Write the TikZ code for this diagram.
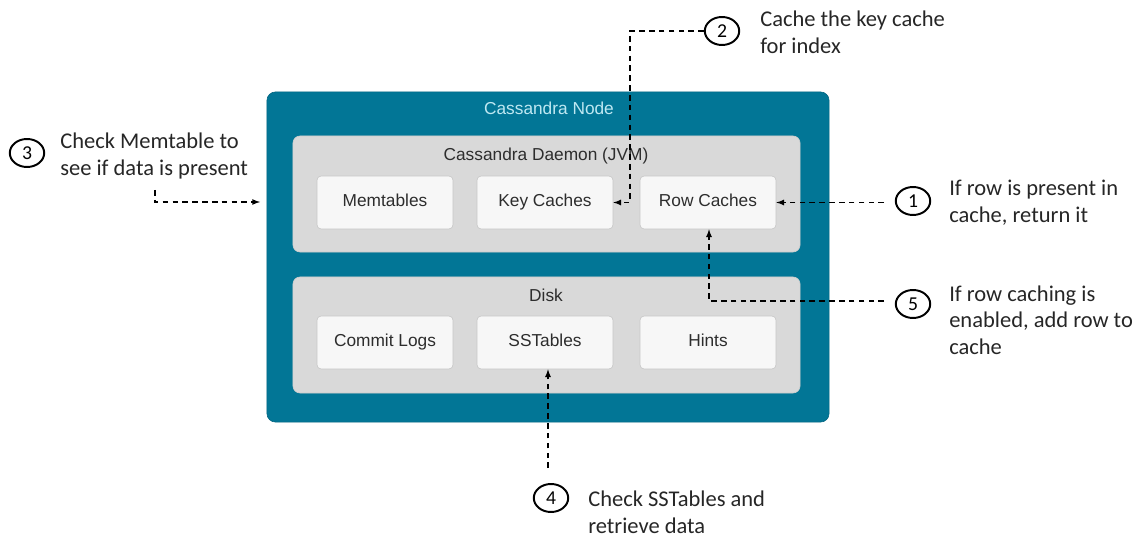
\documentclass[tikz,border=0pt]{standalone}
\usepackage{fontspec}
\setmainfont{Carlito}
\newfontfamily\arialfont{Liberation Sans}
\usetikzlibrary{positioning}
\usetikzlibrary{shapes.geometric}
\definecolor{nodeteal}{RGB}{2,118,150}
\definecolor{nodetitle}{RGB}{190,232,242}
\definecolor{grouppanel}{RGB}{217,217,217}
\definecolor{groupline}{RGB}{205,205,205}
\definecolor{partfill}{RGB}{247,247,247}
\definecolor{partline}{RGB}{196,196,196}
\definecolor{darktext}{RGB}{45,45,45}

\begin{document}
\begin{tikzpicture}[x=0.025cm, y=-0.025cm,
    cluster/.style={draw=nodeteal!85!black, fill=nodeteal, rounded corners=6pt,
        minimum width=14.05cm, minimum height=8.25cm},
    group/.style={draw=groupline, fill=grouppanel, rounded corners=5pt,
        minimum width=12.675cm, minimum height=2.9cm},
    part/.style={draw=partline, fill=partfill, rounded corners=3pt,
        minimum width=3.4cm, minimum height=1.325cm, text height=1.6ex, text depth=0.45ex,
        font=\arialfont\fontsize{12.3}{14}\selectfont, text=darktext},
    heading/.style={font=\arialfont\fontsize{12.3}{14}\selectfont, text=darktext},
    numbered/.style={ellipse, draw, line width=1.4pt, minimum width=0.86cm,
        minimum height=0.7cm, inner sep=0pt, font=\fontsize{14}{16}\selectfont},
    note/.style={anchor=west, align=left, inner sep=0pt,
        font=\fontsize{16}{19}\selectfont, text=black!85},
    flow/.style={draw, dash pattern=on 4pt off 3pt, line width=0.9pt, -latex}]
    \useasboundingbox (0,0) rectangle (1133,538);

    % containers
    \node [cluster] (cnode) at (548,257) {};
    \node [heading, text=nodetitle] (cnodetitle) at (549,108) {Cassandra Node};
    \node [group] (daemon) at (546.5,194) {};
    \node [heading] (daemontitle) at (546,156) {Cassandra Daemon (JVM)};
    \node [group] (disk) at (546.5,335) {};
    \node [heading] (disktitle) at (546,295) {Disk};

    % parts
    \node [part] (memtables) at (385,202.5) {Memtables};
    \node [part] (keycaches) at (545,202.5) {Key Caches};
    \node [part] (rowcaches) at (708,202.5) {Row Caches};
    \node [part] (commitlogs) at (385,342.5) {Commit Logs};
    \node [part] (sstables) at (545,342.5) {SSTables};
    \node [part] (hints) at (708,342.5) {Hints};

    % numbered steps
    \node [numbered] (one) at (913,201) {1};
    \node [note] (onetext) at (949,203) {If row is present in\\cache, return it};
    \node [numbered] (two) at (722,31) {2};
    \node [note] (twotext) at (760,32) {Cache the key cache\\for index};
    \node [numbered] (three) at (27,153) {3};
    \node [note] (threetext) at (60,156) {Check Memtable to\\see if data is present};
    \node [numbered] (four) at (551,498) {4};
    \node [note] (fourtext) at (588,512) {Check SSTables and\\retrieve data};
    \node [numbered] (five) at (913,304) {5};
    \node [note] (fivetext) at (949,320) {If row caching is\\enabled, add row to\\cache};

    % connectors
    \coordinate (bendtwo) at (630,202.5);
    \coordinate (startone) at (884,202.5);
    \coordinate (startthree) at (155,190);
    \coordinate (endthree) at (260,202);
    \coordinate (startfour) at (548,468);
    \coordinate (startfive) at (884,301);
    \draw [flow] (two.west) -| (bendtwo) -- (keycaches.east);
    \draw [flow] (startone) -- (rowcaches.east);
    \draw [flow] (startthree) |- (endthree);
    \draw [flow] (startfour) -- (startfour |- sstables.south);
    \draw [flow] (startfive) -| (rowcaches.south -| 709,0);
\end{tikzpicture}
\end{document}
